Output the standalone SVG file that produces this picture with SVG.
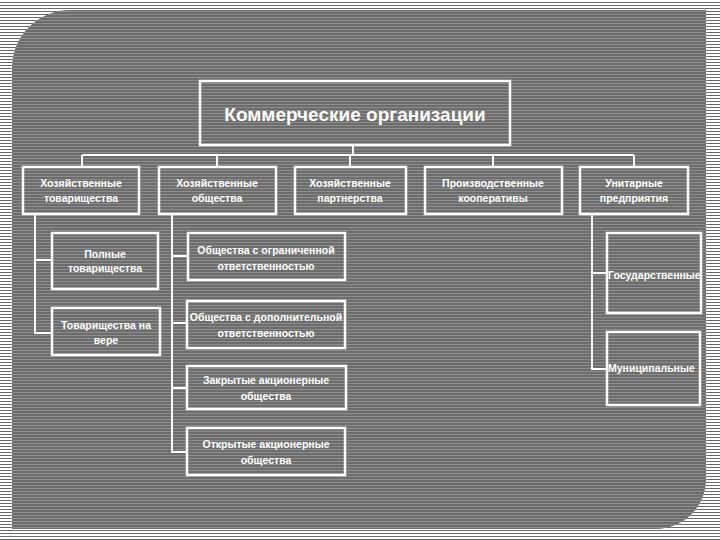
<svg xmlns="http://www.w3.org/2000/svg" width="720" height="540" viewBox="0 0 720 540">
  <defs>
    <pattern id="outer" width="4" height="3" patternUnits="userSpaceOnUse">
      <rect x="0" y="0" width="4" height="3" fill="#ffffff"/>
      <rect x="0" y="2" width="4" height="1" fill="#6a6a6a"/>
    </pattern>
    <pattern id="inner" width="4" height="3" patternUnits="userSpaceOnUse">
      <rect x="0" y="0" width="4" height="3" fill="#6c6c6c"/>
      <rect x="0" y="2" width="4" height="1" fill="#8e8e8e"/>
    </pattern>
    <style>
      .box { fill: none; stroke: #ffffff; stroke-width: 2.5; }
      .ln { fill: none; stroke: #ffffff; stroke-width: 2; }
      .t { fill: #ffffff; font-family: "Liberation Sans", Arial, sans-serif; font-weight: bold; font-size: 10.5px; text-anchor: middle; }
      .tl { fill: #ffffff; font-family: "Liberation Sans", Arial, sans-serif; font-weight: bold; font-size: 10.5px; text-anchor: start; }
      .title { fill: #ffffff; font-family: "Liberation Sans", Arial, sans-serif; font-weight: bold; font-size: 19px; text-anchor: middle; }
    </style>
  </defs>
  <rect x="0" y="0" width="720" height="540" fill="url(#outer)"/>
  <path d="M12,68 A58,58 0 0 1 70,10 L706,10 L706,480 A50,50 0 0 1 656,529 L12,529 Z" fill="url(#inner)"/>

  <g id="connectors">
    <line class="ln" x1="353" y1="145" x2="353" y2="155"/>
    <line class="ln" x1="82" y1="155" x2="634" y2="155"/>
    <line class="ln" x1="82" y1="155" x2="82" y2="167"/>
    <line class="ln" x1="217" y1="155" x2="217" y2="167"/>
    <line class="ln" x1="350" y1="155" x2="350" y2="167"/>
    <line class="ln" x1="493" y1="155" x2="493" y2="167"/>
    <line class="ln" x1="634" y1="155" x2="634" y2="167"/>
    <polyline class="ln" points="35,214 35,333 52,333"/>
    <line class="ln" x1="35" y1="260" x2="52" y2="260"/>
    <polyline class="ln" points="172,214 172,452 187,452"/>
    <line class="ln" x1="172" y1="256" x2="188" y2="256"/>
    <line class="ln" x1="172" y1="323" x2="187" y2="323"/>
    <line class="ln" x1="172" y1="388" x2="187" y2="388"/>
    <polyline class="ln" points="592,214 592,369 607,369"/>
    <line class="ln" x1="592" y1="273" x2="607" y2="273"/>
  </g>

  <g id="root">
    <rect class="box" x="200" y="81" width="310" height="64"/>
    <text class="title" x="355" y="121">Коммерческие организации</text>
  </g>

  <g id="n-hoz-tov">
    <rect class="box" x="23" y="167" width="116" height="47"/>
    <text class="t" x="81" y="187">Хозяйственные</text>
    <text class="t" x="81" y="202">товарищества</text>
  </g>
  <g id="n-hoz-obsh">
    <rect class="box" x="159" y="167" width="117" height="47"/>
    <text class="t" x="217" y="187">Хозяйственные</text>
    <text class="t" x="217" y="202">общества</text>
  </g>
  <g id="n-hoz-part">
    <rect class="box" x="295" y="167" width="111" height="47"/>
    <text class="t" x="350" y="187">Хозяйственные</text>
    <text class="t" x="350" y="202">партнерства</text>
  </g>
  <g id="n-proizv">
    <rect class="box" x="425" y="167" width="137" height="47"/>
    <text class="t" x="493" y="187">Производственные</text>
    <text class="t" x="493" y="202">кооперативы</text>
  </g>
  <g id="n-unit">
    <rect class="box" x="580" y="167" width="108" height="47"/>
    <text class="t" x="634" y="187">Унитарные</text>
    <text class="t" x="634" y="202">предприятия</text>
  </g>

  <g id="n-polnye">
    <rect class="box" x="52" y="233" width="106" height="56"/>
    <text class="t" x="105" y="258">Полные</text>
    <text class="t" x="105" y="272">товарищества</text>
  </g>
  <g id="n-vera">
    <rect class="box" x="52" y="308" width="108" height="47"/>
    <text class="t" x="106" y="329">Товарищества на</text>
    <text class="t" x="106" y="344">вере</text>
  </g>

  <g id="n-ooo">
    <rect class="box" x="188" y="233" width="157" height="47"/>
    <text class="t" x="266" y="254">Общества с ограниченной</text>
    <text class="t" x="266" y="270">ответственностью</text>
  </g>
  <g id="n-odo">
    <rect class="box" x="187" y="301" width="158" height="47"/>
    <text class="t" x="266" y="321">Общества с дополнительной</text>
    <text class="t" x="266" y="337">ответственностью</text>
  </g>
  <g id="n-zao">
    <rect class="box" x="187" y="366" width="159" height="43"/>
    <text class="t" x="266" y="384">Закрытые акционерные</text>
    <text class="t" x="266" y="400">общества</text>
  </g>
  <g id="n-oao">
    <rect class="box" x="187" y="428" width="158" height="47"/>
    <text class="t" x="266" y="448">Открытые акционерные</text>
    <text class="t" x="266" y="464">общества</text>
  </g>

  <g id="n-gos">
    <rect class="box" x="607" y="233" width="94" height="80"/>
    <text class="tl" x="608" y="279">Государственные</text>
  </g>
  <g id="n-mun">
    <rect class="box" x="607" y="332" width="93" height="73"/>
    <text class="tl" x="608" y="372">Муниципальные</text>
  </g>
</svg>
